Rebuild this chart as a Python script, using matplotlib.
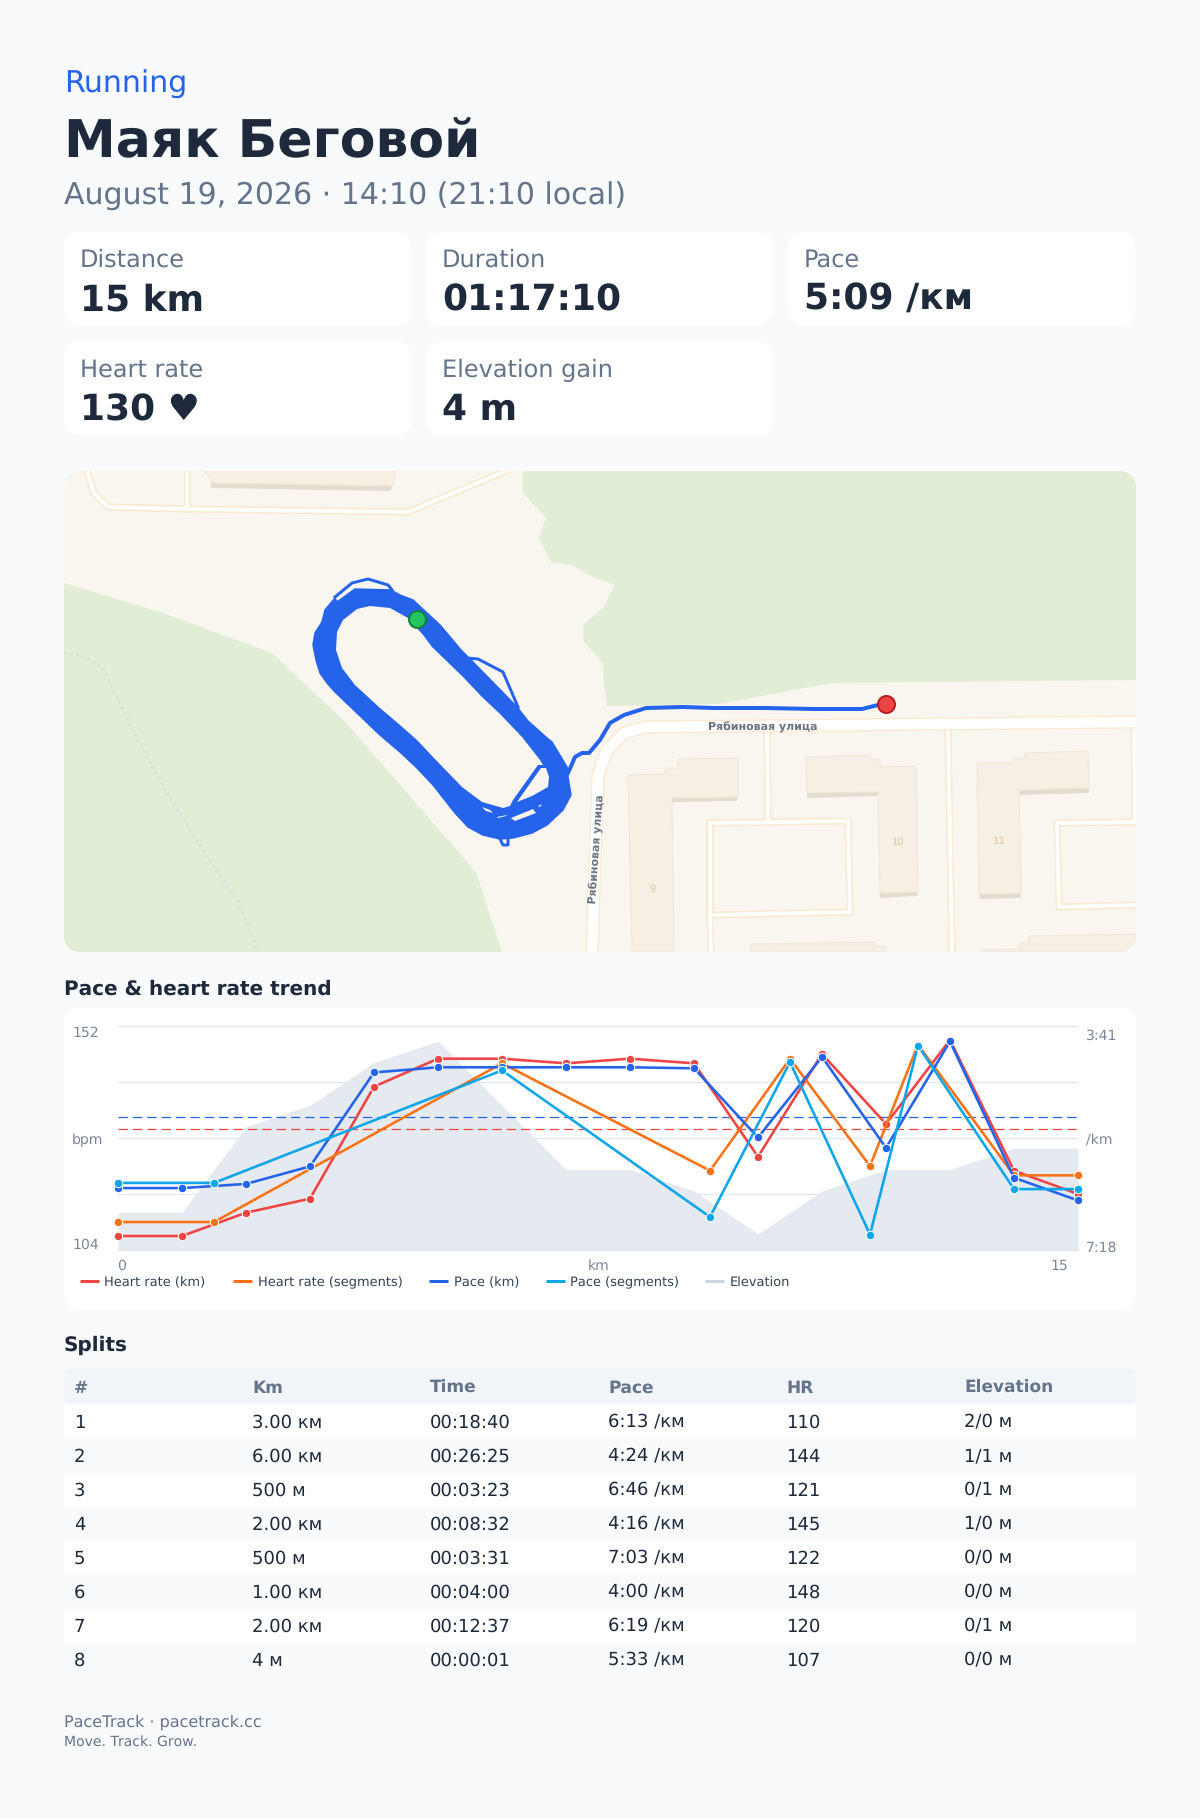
import numpy as np
import matplotlib
matplotlib.use('Agg')
import matplotlib.pyplot as plt
from matplotlib.patches import FancyBboxPatch, Polygon

# chart values
km_x = [0, 1, 2, 3, 4, 5, 6, 7, 8, 9, 10, 11, 12, 13, 14, 15]
hr_km = [107, 107, 112, 115, 139, 145, 145, 144, 145, 144, 124, 146, 131, 149, 121, 116]
pace_km = [378, 378, 374, 357, 266, 261, 261, 261, 261, 262, 329, 251, 339, 236, 368, 390]
seg_x = [0, 1.5, 6, 9.25, 10.5, 11.75, 12.5, 14, 15]
hr_seg = [110, 110, 144, 121, 145, 122, 148, 120, 120]
pace_seg = [373, 373, 264, 406, 256, 423, 240, 379, 379]
elevation = [1, 1, 5, 6, 8, 9, 6, 3, 3, 2, 0, 2, 3, 3, 4, 4]
avg_hr = 130
avg_pace = 309

# cards
card_labels = ['Distance', 'Duration', 'Pace', 'Heart rate', 'Elevation gain']
card_values = ['15 km', '01:17:10', '5:09 /км', '130 ♥', '4 m']

# splits table
split_head = ['#', 'Km', 'Time', 'Pace', 'HR', 'Elevation']
split_num = ['1', '2', '3', '4', '5', '6', '7', '8']
split_km = ['3.00 км', '6.00 км', '500 м', '2.00 км', '500 м', '1.00 км', '2.00 км', '4 м']
split_time = ['00:18:40', '00:26:25', '00:03:23', '00:08:32', '00:03:31', '00:04:00', '00:12:37', '00:00:01']
split_pace = ['6:13 /км', '4:24 /км', '6:46 /км', '4:16 /км', '7:03 /км', '4:00 /км', '6:19 /км', '5:33 /км']
split_hr = ['110', '144', '121', '145', '122', '148', '120', '107']
split_elev = ['2/0 м', '1/1 м', '0/1 м', '1/0 м', '0/0 м', '0/0 м', '0/1 м', '0/0 м']

# map shapes, in page pixels
green_left = [(64, 583), (160, 612), (272, 653), (346, 723), (476, 872), (502, 952), (64, 952)]
green_right = [(523, 471), (523, 493), (546, 518), (539, 538), (551, 562), (572, 565), (590, 576),
               (615, 585), (603, 608), (583, 625), (584, 642), (603, 663), (604, 685), (607, 706),
               (719, 704), (831, 683), (1136, 680), (1136, 471)]
road_main = [(1136, 722), (646, 727), (624, 733), (607, 750), (598, 775), (592, 952)]
roads_thin = [
    [(87, 471), (94, 493), (108, 507), (187, 509), (408, 512), (506, 471)],
    [(187, 471), (187, 509)],
    [(767, 730), (768, 821)],
    [(710, 823), (848, 821), (850, 912), (710, 915), (710, 823)],
    [(710, 915), (711, 952)],
    [(948, 728), (952, 952)],
    [(1134, 727), (1135, 822)],
    [(1136, 822), (1057, 823), (1059, 907), (1136, 905)],
]
buildings = [
    [(628, 775), (665, 774), (665, 768), (678, 768), (678, 759), (738, 758), (738, 797), (672, 798), (674, 952), (632, 952)],
    [(806, 757), (870, 755), (870, 759), (880, 759), (880, 767), (916, 766), (918, 892), (880, 893), (878, 792), (807, 793)],
    [(977, 763), (1014, 763), (1014, 758), (1025, 758), (1025, 753), (1088, 751), (1089, 788), (1019, 790), (1021, 893), (979, 894)],
    [(751, 944), (876, 942), (876, 947), (886, 947), (886, 952), (751, 952)],
    [(982, 950), (1019, 949), (1019, 943), (1029, 942), (1029, 936), (1136, 934), (1136, 952), (982, 952)],
    [(203, 471), (210, 477), (211, 483), (392, 486), (396, 471)],
]
shadows = [
    [(672, 798), (738, 797), (737, 801), (672, 802)],
    [(807, 793), (878, 792), (878, 796), (807, 798)],
    [(880, 893), (918, 892), (917, 896), (880, 898)],
    [(1019, 790), (1089, 788), (1089, 793), (1019, 795)],
    [(979, 894), (1021, 893), (1021, 898), (980, 899)],
    [(211, 483), (392, 486), (390, 491), (211, 488)],
]
dotted_path = [(64, 653), (81, 655), (103, 668), (131, 727), (167, 793), (203, 850), (239, 903), (258, 952)]

# route
band_outer = [(355, 589), (391, 590), (400, 595), (413, 600), (440, 625), (461, 650), (473, 662), (517, 707),
              (528, 721), (547, 738), (552, 742), (567, 767), (568, 777), (571, 795), (563, 810), (547, 825),
              (532, 833), (513, 838), (500, 839), (483, 835), (468, 827), (455, 813), (433, 785), (417, 768),
              (400, 752), (380, 735), (357, 713), (335, 692), (327, 683), (320, 673), (316, 660), (313, 645),
              (315, 633), (322, 622), (325, 610), (335, 598), (337, 602)]
band_inner = [(370, 606), (357, 609), (343, 620), (337, 632), (336, 650), (342, 668), (355, 685), (380, 708),
              (393, 719), (400, 725), (417, 740), (433, 757), (462, 787), (482, 802), (503, 808), (510, 806),
              (513, 800), (538, 765), (543, 765), (540, 760), (522, 737), (500, 714), (482, 697), (463, 677),
              (432, 647), (423, 635), (408, 618), (390, 608)]
band_gaps = [
    [(517, 802), (541, 768), (546, 768), (549, 777), (548, 787), (532, 796)],
    [(511, 818), (533, 809), (536, 813), (515, 821)],
    [(482, 807), (490, 810), (493, 813), (486, 811)],
    [(497, 817), (507, 815), (506, 816), (498, 818)],
    [(538, 806), (542, 804), (540, 807)],
]
route_exit = [(568, 773), (575, 757), (582, 753), (589, 753), (600, 740), (610, 723), (624, 715), (646, 708),
              (683, 707), (714, 708), (765, 708), (814, 709), (862, 709), (878, 705)]
route_branches = [
    [(335, 597), (352, 583), (368, 579), (388, 585), (392, 590)],
    [(467, 658), (478, 659), (503, 672), (518, 707)],
    [(500, 839), (503, 845), (508, 845), (508, 840)],
]
route_start = (417, 619)
route_end = (886, 704)

BG = '#f8fafc'
INK = '#1e293b'
MUTED = '#64748b'
BLUE = '#2563eb'
RED = '#ef4444'
ORANGE = '#f97316'
CYAN = '#0ea5e9'
LAND = '#f9f6f0'

plt.rcParams['font.family'] = ['DejaVu Sans']
plt.rcParams['text.hinting'] = 'no_hinting'
plt.rcParams['text.hinting_factor'] = 1

def px(size):
    return size * 0.72

fig = plt.figure(figsize=(12, 18.18), dpi=100, facecolor=BG)
page = fig.add_axes([0, 0, 1, 1])
page.set_xlim(0, 1200)
page.set_ylim(1818, 0)
page.axis('off')

def box(x0, y0, x1, y1, r, color, z=1):
    p = FancyBboxPatch((x0 + r, y0 + r), x1 - x0 - 2 * r, y1 - y0 - 2 * r,
                       boxstyle='round,pad=%g,rounding_size=%g' % (r, r),
                       fc=color, ec='none', zorder=z)
    page.add_patch(p)
    return p

# header
page.text(64, 92.5, 'Running', color=BLUE, fontsize=px(30), va='baseline')
page.text(64, 157.3, 'Маяк Беговой', color=INK, fontsize=px(52), fontweight='bold', va='baseline')
page.text(64, 204.3, 'August 19, 2026 · 14:10 (21:10 local)', color=MUTED, fontsize=px(30), va='baseline')

card_x = [64, 426, 788, 64, 426]
card_y = [232, 232, 232, 342, 342]
for i in range(5):
    box(card_x[i], card_y[i], card_x[i] + 347, card_y[i] + 93, 15, 'white')
    page.text(card_x[i] + 16, card_y[i] + 34.7, card_labels[i], color=MUTED, fontsize=px(24), va='baseline')
    page.text(card_x[i] + 16, card_y[i] + 78, card_values[i], color=INK, fontsize=px(36),
              fontweight='bold', va='baseline')

# map
map_clip = box(64, 471, 1136, 952, 18, LAND)
map_art = []
map_art.append(page.fill(*zip(*green_left), color='#e2edd5', zorder=2, lw=0)[0])
map_art.append(page.fill(*zip(*green_right), color='#e2edd5', zorder=2, lw=0)[0])
map_art += page.plot(*zip(*dotted_path), color='#d9dfdc', lw=2, ls=(0, (1, 1.2)), zorder=2.5)
for r in roads_thin:
    map_art += page.plot(*zip(*r), color='#fce8cc', lw=px(7), zorder=3, solid_joinstyle='miter')
for r in roads_thin:
    map_art += page.plot(*zip(*r), color='white', lw=px(4), zorder=3.1, solid_joinstyle='miter')
map_art += page.plot(*zip(*road_main), color='#fce8cc', lw=px(13), zorder=3.2)
map_art += page.plot(*zip(*road_main), color='white', lw=px(10.5), zorder=3.3)
for s in shadows:
    map_art.append(page.fill(*zip(*s), color='#e4dccf', zorder=3.5, lw=0)[0])
for b in buildings:
    map_art.append(page.add_patch(Polygon(b, closed=True, fc='#f5efe4', ec='#efe6d6', lw=0.7, zorder=3.6)))
for t in [page.text(653, 889, '9', color='#dfc49c', fontsize=px(10), ha='center', va='center', zorder=4),
          page.text(898, 842, '10', color='#dfc49c', fontsize=px(10), ha='center', va='center', zorder=4),
          page.text(999, 841, '11', color='#dfc49c', fontsize=px(10), ha='center', va='center', zorder=4)]:
    map_art.append(t)
page.text(763, 727, 'Рябиновая улица', color='#6b7280', fontsize=px(10.8), fontweight='bold',
          ha='center', va='center', zorder=4)
page.text(597, 849, 'Рябиновая улица', color='#6b7280', fontsize=px(10.8), fontweight='bold',
          rotation=86, ha='center', va='center', zorder=4)
map_art.append(page.fill(*zip(*band_outer), color=BLUE, ec=BLUE, zorder=5, lw=px(1.5), joinstyle='round')[0])
map_art.append(page.fill(*zip(*band_inner), color=LAND, zorder=5.1, lw=0)[0])
for g in band_gaps:
    map_art.append(page.fill(*zip(*g), color=LAND, zorder=5.1, lw=0)[0])
map_art += page.plot(*zip(*route_exit), color=BLUE, lw=px(4), zorder=5.2)
for r in route_branches:
    map_art += page.plot(*zip(*r), color=BLUE, lw=px(3), zorder=5.2)
page.plot(*route_start, 'o', ms=px(17), mfc='#22c55e', mec='#15803d', mew=px(2), zorder=6)
page.plot(*route_end, 'o', ms=px(17), mfc=RED, mec='#b91c1c', mew=px(2), zorder=6)
for a in map_art:
    a.set_clip_path(map_clip)

# trend chart
page.text(64, 995, 'Pace & heart rate trend', color=INK, fontsize=px(20), fontweight='bold', va='baseline')
box(64, 1008, 1136, 1309, 16, 'white')

ax = fig.add_axes([118 / 1200, 1 - 1250 / 1818, 960 / 1200, 224 / 1818])
ax.set_zorder(2)
ax.patch.set_alpha(0)
ax.set_xlim(0, 15)
ax.set_ylim(104, 152)
for s in ax.spines.values():
    s.set_visible(False)
ax.tick_params(length=0, labelleft=False, labelbottom=False)
ax.set_xticks([])
ax.set_yticks([104, 116, 128, 140, 152])
ax.grid(axis='y', color='#e2e8f0', lw=1.0, clip_on=False)
ax.set_axisbelow(True)

elev_ax = ax.twinx()
elev_ax.set_ylim(-0.76, 9.71)
elev_ax.axis('off')
elev_ax.fill_between(km_x, elevation, -0.76, color='#e5e9f0', lw=0)

top_ax = ax.twinx()
top_ax.set_ylim(104, 152)
top_ax.axis('off')
top_ax.axhline(avg_hr, color=RED, lw=0.9, ls=(0, (7.5, 4)))
pace_ax2 = ax.twinx()
pace_ax2.set_ylim(438, 221)
pace_ax2.axis('off')
pace_ax2.axhline(avg_pace, color=BLUE, lw=0.9, ls=(0, (7.5, 4)))

hr_ax = ax.twinx()
hr_ax.set_ylim(104, 152)
hr_ax.axis('off')
marker = dict(marker='o', ms=px(8.5), mec='white', mew=px(1), clip_on=False, lw=px(2.6))
hr_ax.plot(km_x, hr_km, color=RED, **marker)
hr_ax.plot(seg_x, hr_seg, color=ORANGE, **marker)

pace_top = ax.twinx()
pace_top.set_ylim(438, 221)
pace_top.axis('off')
pace_top.plot(km_x, pace_km, color=BLUE, **marker)
pace_top.plot(seg_x, pace_seg, color=CYAN, **marker)

# axis labels
LBL = '#7a869a'
for x, y, s, ha in [(72, 1033, '152', 'left'), (72, 1140, 'bpm', 'left'), (72, 1245, '104', 'left'),
                    (1086, 1036, '3:41', 'left'), (1086, 1140, '/km', 'left'), (1086, 1248, '7:18', 'left'),
                    (122, 1266, '0', 'center'), (599, 1266, 'km', 'center'), (1059, 1266, '15', 'center')]:
    page.text(x, y, s, color=LBL, fontsize=px(14), ha=ha, va='center', zorder=3)

# legend
leg_x = [80, 233, 429, 546, 705]
leg_names = ['Heart rate (km)', 'Heart rate (segments)', 'Pace (km)', 'Pace (segments)', 'Elevation']
leg_cols = [RED, ORANGE, BLUE, CYAN, '#cbd5e1']
for x, n, c in zip(leg_x, leg_names, leg_cols):
    page.plot([x, x + 18.5], [1281, 1281], color=c, lw=px(3), zorder=3, solid_capstyle='butt')
    page.text(x + 24.5, 1286.5, n, color='#334155', fontsize=px(13), va='baseline', zorder=3)

# splits
page.text(64, 1351, 'Splits', color=INK, fontsize=px(20), fontweight='bold', va='baseline')
col_x = [74, 252, 430, 608, 786, 964]
box(64, 1368, 1136, 1404, 8, '#f1f5f9')
for x, h in zip(col_x, split_head):
    page.text(x, 1392.7, h, color=MUTED, fontsize=px(17), fontweight='bold', va='baseline')
rows = list(zip(split_num, split_km, split_time, split_pace, split_hr, split_elev))
for i, row in enumerate(rows):
    yc = 1421.5 + i * 34
    page.fill([64, 1136, 1136, 64], [yc - 17, yc - 17, yc + 17, yc + 17],
              color='white' if i % 2 == 0 else '#f8fafc', zorder=1, lw=0)
    for x, s in zip(col_x, row):
        page.text(x, yc + 6, s, color=INK, fontsize=px(18), va='baseline')

# footer
page.text(64, 1727, 'PaceTrack · pacetrack.cc', color=MUTED, fontsize=px(16), va='baseline')
page.text(64, 1746, 'Move. Track. Grow.', color=MUTED, fontsize=px(14), va='baseline')

fig.savefig('out.png', dpi=100, facecolor=BG)
